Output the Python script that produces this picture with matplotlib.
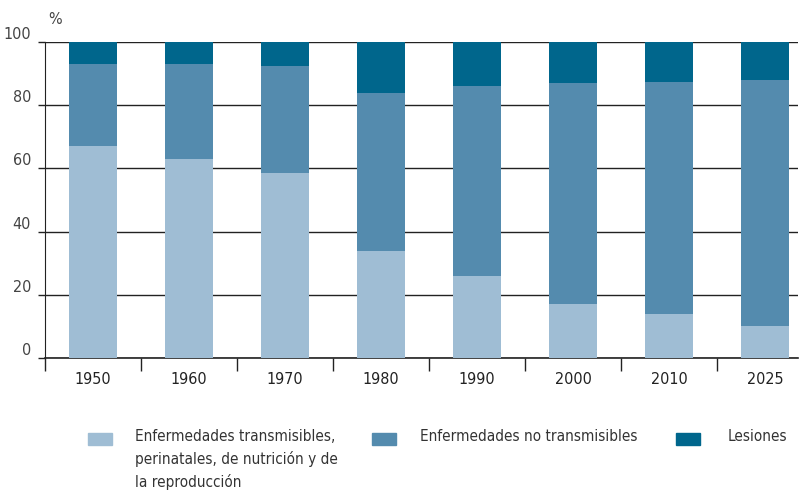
import matplotlib
matplotlib.use('Agg')
import matplotlib.pyplot as plt
from matplotlib.patches import Rectangle
import numpy as np

plt.rcParams['font.family'] = ['DejaVu Sans']
plt.rcParams['font.stretch'] = 'condensed'

# Data
years = ['1950', '1960', '1970', '1980', '1990', '2000', '2010', '2025']
transmisibles = [67, 63, 58.5, 34, 26, 17, 14, 10]
no_transmisibles = [26, 30, 34, 50, 60, 70, 73.5, 78]
lesiones = [7, 7, 7.5, 16, 14, 13, 12.5, 12]

labels = ['Enfermedades transmisibles,\nperinatales, de nutrición y de\nla reproducción',
          'Enfermedades no transmisibles', 'Lesiones']
colors = ['#9fbdd4', '#548bae', '#00668c']

fig = plt.figure(figsize=(8.04, 4.93), dpi=100)
ax = fig.add_axes([45 / 804, 1 - 358 / 493, 753 / 804, 316 / 493])

x = np.arange(len(years))
w = 0.5
ax.bar(x, transmisibles, w, color=colors[0], zorder=3)
ax.bar(x, no_transmisibles, w, bottom=transmisibles, color=colors[1], zorder=3)
bottom2 = np.array(transmisibles) + np.array(no_transmisibles)
ax.bar(x, lesiones, w, bottom=bottom2, color=colors[2], zorder=3)

ax.set_xlim(-0.5, 7.34)
ax.set_ylim(0, 100)

ax.set_yticks([0, 20, 40, 60, 80, 100])
ax.set_yticklabels(['0', '20', '40', '60', '80', '100'], fontsize=11.5, color='#444444')
for lbl in ax.get_yticklabels():
    lbl.set_va('bottom')
ax.tick_params(axis='y', length=5, width=1, color='#222222', pad=5)
ax.yaxis.grid(True, color='#222222', linewidth=1, zorder=1)

ax.set_xticks(x)
ax.set_xticklabels(years, fontsize=11.5, color='#222222')
ax.tick_params(axis='x', which='major', length=0, pad=10)
ax.set_xticks(np.arange(-0.5, 7.5, 1), minor=True)
ax.tick_params(axis='x', which='minor', length=9, width=1, color='#222222')

for s in ['top', 'right']:
    ax.spines[s].set_visible(False)
ax.spines['left'].set_color('#222222')
ax.spines['bottom'].set_color('#222222')
ax.spines['bottom'].set_linewidth(1.2)

fig.text(48 / 804, 1 - 20 / 493, '%', fontsize=11.5, color='#444444', va='center')

# Legend
patch_x = [88, 372, 676]
text_x = [135, 420, 728]
for px, tx, c, lab in zip(patch_x, text_x, colors, labels):
    fig.add_artist(Rectangle((px / 804, 1 - 445 / 493), 24 / 804, 12 / 493,
                             transform=fig.transFigure, color=c))
    fig.text(tx / 804, 1 - 429 / 493, lab, fontsize=11, color='#333333',
             va='top', linespacing=1.55)

fig.savefig('out.png', dpi=100)
